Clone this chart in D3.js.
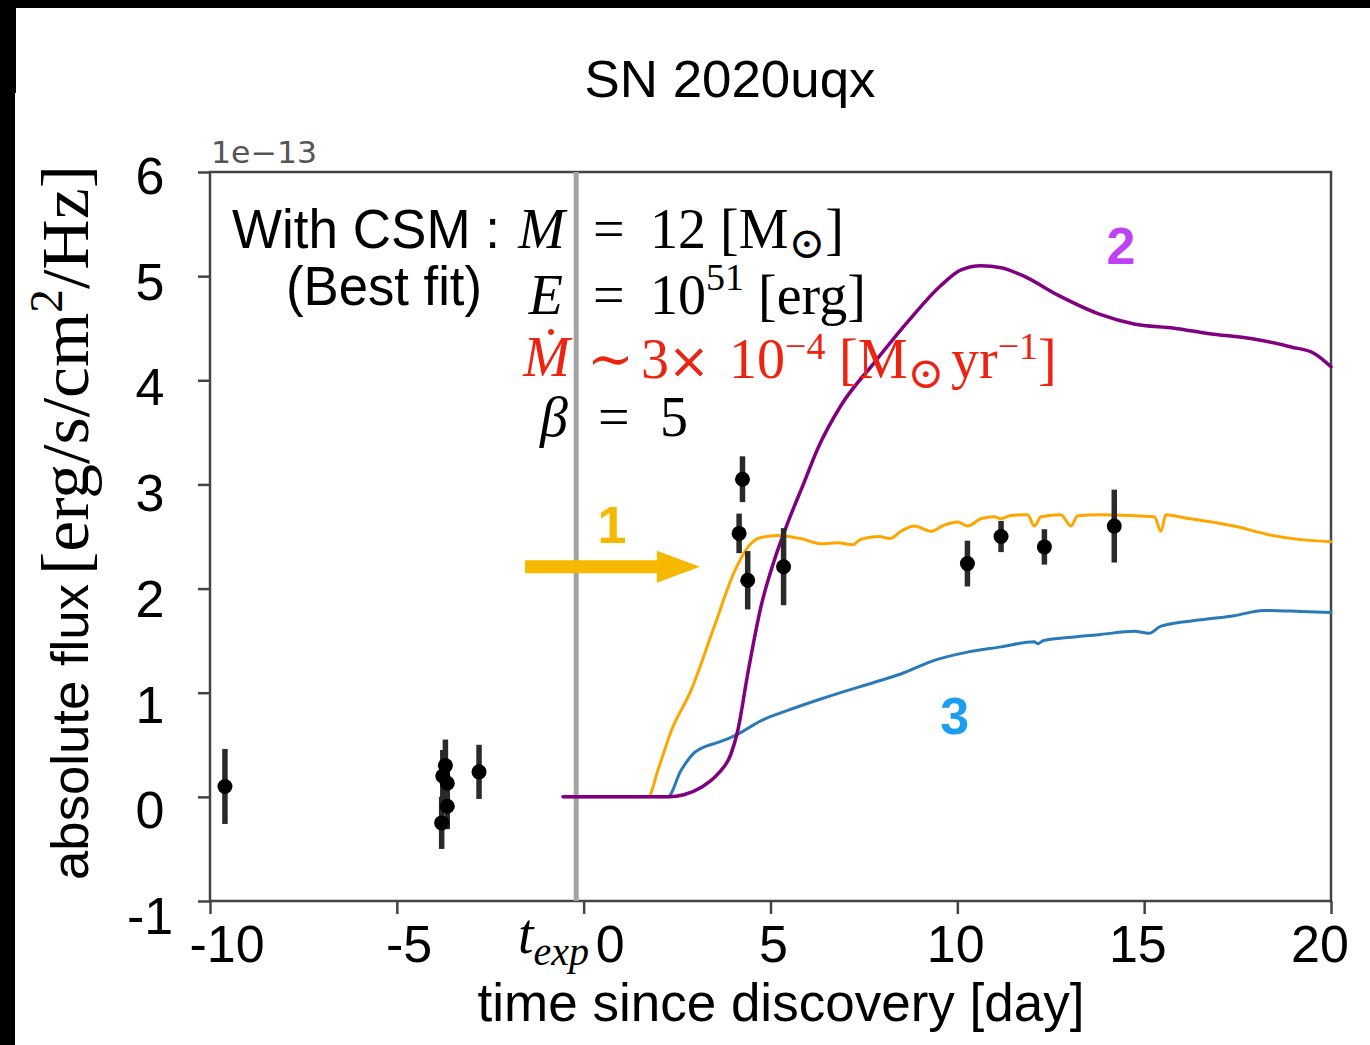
<!DOCTYPE html>
<html>
<head>
<meta charset="utf-8">
<script src="https://cdn.jsdelivr.net/npm/d3@7"></script>
<style>
  html, body { margin: 0; padding: 0; background: #fff; }
  svg { display: block; }
</style>
</head>
<body>
<div id="graph"></div>
<script>
"use strict";
(function() {
    // ---- data ----
    const xTicks = [-10, -5, 0, 5, 10, 15, 20];
    const yTicks = [-1, 0, 1, 2, 3, 4, 5, 6];
    const tExp = -0.2;

    // observed points: [day, flux (1e-13), error]
    const obsPoints = [
        [-9.6, 0.1, 0.36],
        [-3.77, 0.2, 0.25],
        [-3.7, 0.3, 0.25],
        [-3.65, 0.13, 0.22],
        [-3.65, -0.09, 0.22],
        [-3.8, -0.25, 0.25],
        [-2.8, 0.24, 0.26],
        [4.25, 3.05, 0.22],
        [4.16, 2.53, 0.19],
        [4.39, 2.08, 0.28],
        [5.35, 2.21, 0.37],
        [10.27, 2.24, 0.22],
        [11.17, 2.5, 0.15],
        [12.33, 2.4, 0.17],
        [14.2, 2.6, 0.35]
    ];

    // model 1 (orange)
    const model1 = [
        [-0.55, 0], [1.72, 0], [2.0, 0.27], [2.34, 0.63], [2.87, 1.02], [3.49, 1.63],
        [4.02, 2.15], [4.4, 2.4], [4.74, 2.49], [5.2, 2.51], [5.81, 2.48], [6.35, 2.43],
        [6.8, 2.44], [7.2, 2.42], [7.4, 2.47], [7.9, 2.5], [8.2, 2.48], [8.49, 2.55],
        [8.85, 2.6], [9.29, 2.55], [9.65, 2.61], [10.01, 2.64], [10.28, 2.6], [10.63, 2.67],
        [10.99, 2.69], [11.17, 2.67], [11.4, 2.7], [11.88, 2.71], [12.06, 2.6], [12.24, 2.69],
        [12.77, 2.71], [13.04, 2.6], [13.22, 2.7], [13.84, 2.71], [14.73, 2.7], [15.27, 2.69],
        [15.45, 2.55], [15.58, 2.71], [16.07, 2.68], [16.97, 2.63], [17.41, 2.6], [18.3, 2.52],
        [19.19, 2.47], [20.0, 2.45]
    ];

    // model 2 (purple)
    const model2 = [
        [-0.55, 0], [2.3, 0], [2.68, 0.02], [3.14, 0.09], [3.59, 0.22], [3.94, 0.41],
        [4.12, 0.63], [4.39, 1.18], [4.74, 1.82], [5.1, 2.27], [5.46, 2.63], [5.9, 3.02],
        [6.26, 3.34], [6.89, 3.76], [7.78, 4.17], [8.67, 4.56], [9.56, 4.91], [10.1, 5.06],
        [10.63, 5.1], [11.17, 5.08], [11.78, 5.0], [12.68, 4.82], [13.84, 4.63], [14.73, 4.54],
        [15.8, 4.5], [16.7, 4.45], [18.04, 4.39], [18.93, 4.32], [19.54, 4.26], [20.0, 4.13]
    ];

    // model 3 (blue)
    const model3 = [
        [-0.55, 0], [2.25, 0], [2.6, 0.25], [2.95, 0.42], [3.3, 0.49], [3.58, 0.52],
        [4.12, 0.6], [4.74, 0.73], [5.46, 0.83], [6.35, 0.94], [7.96, 1.12], [8.49, 1.18],
        [9.38, 1.31], [10.27, 1.39], [11.17, 1.44], [12.06, 1.49], [12.15, 1.47],
        [12.3, 1.5], [12.95, 1.53], [13.84, 1.56], [14.73, 1.59], [15.13, 1.57],
        [15.45, 1.64], [16.52, 1.7], [17.41, 1.74], [18.2, 1.79], [19.19, 1.78], [20.0, 1.77]
    ];

    const width = 1370;
    const height = 1045;
    const plot = { left: 210, right: 1331, top: 172, bottom: 901 };
    const sans = "'Liberation Sans', Arial, Helvetica, sans-serif";
    const serif = "'Liberation Serif', 'Times New Roman', 'DejaVu Serif', serif";
    const axisColor = "#444";

    const svg = d3.select("#graph")
        .append("svg")
            .attr("width", width)
            .attr("height", height);

    // picture frame (black bands on top and left of the original)
    svg.append("rect").attr("x", 0).attr("y", 0).attr("width", width).attr("height", 8).attr("fill", "#000");
    svg.append("rect").attr("x", 0).attr("y", 0).attr("width", 16).attr("height", 93).attr("fill", "#000");
    svg.append("rect").attr("x", 0).attr("y", 93).attr("width", 15).attr("height", height - 93).attr("fill", "#000");

    const xScale = d3.scaleLinear().domain([-10, 20]).range([plot.left, plot.right]);
    const yScale = d3.scaleLinear().domain([-1, 6]).range([plot.bottom, plot.top]);
    // tick labels were placed a bit off their ticks in the original
    const xLabelScale = d3.scaleLinear().domain([-10, 20]).range([227, 1320]);
    const yLabelScale = d3.scaleLinear().domain([-1, 6]).range([915, 175]);

    // title
    svg.append("text")
        .attr("x", 730).attr("y", 97)
        .attr("text-anchor", "middle")
        .attr("font-family", sans).attr("font-size", 52)
        .attr("textLength", 291).attr("lengthAdjust", "spacingAndGlyphs")
        .text("SN 2020uqx");

    // axes (ticks only, labels drawn separately)
    const xAxis = svg.append("g")
        .attr("transform", "translate(0," + plot.bottom + ")")
        .call(d3.axisBottom(xScale).tickValues(xTicks).tickSize(13).tickSizeOuter(0).tickFormat(""));
    const yAxis = svg.append("g")
        .attr("transform", "translate(" + plot.left + ",0)")
        .call(d3.axisLeft(yScale).tickValues(yTicks).tickSize(12).tickSizeOuter(0).tickFormat(""));
    [xAxis, yAxis].forEach(function(a) {
        a.select(".domain").remove();
        a.selectAll(".tick line").attr("stroke", axisColor).attr("stroke-width", 2.5);
    });

    svg.append("rect")
        .attr("x", plot.left).attr("y", plot.top)
        .attr("width", plot.right - plot.left).attr("height", plot.bottom - plot.top)
        .attr("fill", "none").attr("stroke", axisColor).attr("stroke-width", 2.5);

    // tick labels
    svg.append("g").selectAll("text")
        .data(xTicks)
        .enter()
        .append("text")
            .attr("x", function(d) { return d === 0 ? xLabelScale(d) + 19 : xLabelScale(d); })
            .attr("y", 962)
            .attr("text-anchor", "middle")
            .attr("font-family", sans).attr("font-size", 52)
            .text(function(d) { return d; });

    svg.append("g").selectAll("text")
        .data(yTicks)
        .enter()
        .append("text")
            .attr("x", 150)
            .attr("y", function(d) { return yLabelScale(d) + 19; })
            .attr("text-anchor", "middle")
            .attr("font-family", sans).attr("font-size", 52)
            .text(function(d) { return d; });

    // offset text
    svg.append("text")
        .attr("x", 211).attr("y", 163)
        .attr("font-family", "'DejaVu Sans', sans-serif").attr("font-size", 30)
        .attr("fill", "#555")
        .attr("textLength", 106).attr("lengthAdjust", "spacingAndGlyphs")
        .text("1e\u221213");

    // t_exp label
    const tlab = svg.append("text")
        .attr("x", 518).attr("y", 953)
        .attr("font-family", serif).attr("font-style", "italic").attr("font-size", 56);
    tlab.append("tspan").text("t");
    tlab.append("tspan").attr("dy", 12).attr("font-size", 40).text("exp");

    // axis titles
    svg.append("text")
        .attr("x", 781).attr("y", 1021)
        .attr("text-anchor", "middle")
        .attr("font-family", sans).attr("font-size", 53)
        .attr("textLength", 607).attr("lengthAdjust", "spacingAndGlyphs")
        .text("time since discovery [day]");

    svg.append("text")
        .attr("transform", "translate(88,880) rotate(-90)")
        .attr("font-family", sans).attr("font-size", 52)
        .attr("textLength", 296).attr("lengthAdjust", "spacingAndGlyphs")
        .text("absolute flux");

    const ylab = svg.append("text")
        .attr("transform", "translate(88,575) rotate(-90)")
        .attr("font-family", serif).attr("font-size", 68)
        .attr("textLength", 410).attr("lengthAdjust", "spacingAndGlyphs");
    ylab.append("tspan").text("[erg/s/cm");
    ylab.append("tspan").attr("dy", -26).attr("font-size", 46).text("2");
    ylab.append("tspan").attr("dy", 26).text("/Hz]");

    // explosion time marker
    svg.append("line")
        .attr("x1", xScale(tExp)).attr("x2", xScale(tExp))
        .attr("y1", plot.top).attr("y2", plot.bottom)
        .attr("stroke", "#a3a3a3").attr("stroke-width", 5);

    // model curves
    const line = d3.line()
        .x(function(d) { return xScale(d[0]); })
        .y(function(d) { return yScale(d[1]); })
        .curve(d3.curveMonotoneX);

    const models = [
        { data: model1, color: "#ffa500", w: 3 },
        { data: model3, color: "#2a7ab8", w: 3 },
        { data: model2, color: "#800080", w: 3.5 }
    ];
    models.forEach(function(m) {
        svg.append("path")
            .datum(m.data)
            .attr("d", line)
            .attr("fill", "none")
            .attr("stroke", m.color)
            .attr("stroke-width", m.w)
            .attr("stroke-linejoin", "round")
            .attr("stroke-linecap", "round");
    });

    // observed points with error bars
    const pts = svg.append("g");
    pts.selectAll("line")
        .data(obsPoints)
        .enter()
        .append("line")
            .attr("x1", function(d) { return xScale(d[0]); })
            .attr("x2", function(d) { return xScale(d[0]); })
            .attr("y1", function(d) { return yScale(d[1] - d[2]); })
            .attr("y2", function(d) { return yScale(d[1] + d[2]); })
            .attr("stroke", "#2a2a2a")
            .attr("stroke-width", 5.5);
    pts.selectAll("circle")
        .data(obsPoints)
        .enter()
        .append("circle")
            .attr("cx", function(d) { return xScale(d[0]); })
            .attr("cy", function(d) { return yScale(d[1]); })
            .attr("r", 7.5)
            .attr("fill", "#000");

    // arrow pointing at model 1
    const arrowY = 2.21;
    const shaft = 6.5;
    const head = 16;
    const ax0 = xScale(-1.57), axh = xScale(1.96), ax1 = xScale(3.11), ay = yScale(arrowY);
    svg.append("path")
        .attr("d", "M" + ax0 + "," + (ay - shaft) +
                   "L" + axh + "," + (ay - shaft) +
                   "L" + axh + "," + (ay - head) +
                   "L" + ax1 + "," + ay +
                   "L" + axh + "," + (ay + head) +
                   "L" + axh + "," + (ay + shaft) +
                   "L" + ax0 + "," + (ay + shaft) + "Z")
        .attr("fill", "#f6b900");

    // model number labels
    const numLabels = [
        { txt: "1", t: 0.76, f: 2.44, color: "#f6b900" },
        { txt: "2", t: 14.38, f: 5.12, color: "#bf40f5" },
        { txt: "3", t: 9.93, f: 0.6, color: "#1c9ff0" }
    ];
    svg.append("g").selectAll("text")
        .data(numLabels)
        .enter()
        .append("text")
            .attr("x", function(d) { return xScale(d.t); })
            .attr("y", function(d) { return yScale(d.f); })
            .attr("text-anchor", "middle")
            .attr("font-family", sans).attr("font-weight", "bold").attr("font-size", 52)
            .attr("fill", function(d) { return d.color; })
            .text(function(d) { return d.txt; });

    // parameter block
    function rich(x, y, parts, opts) {
        const t = svg.append("text")
            .attr("x", x).attr("y", y)
            .attr("font-family", opts.family || serif)
            .attr("font-size", opts.size || 56)
            .attr("fill", opts.color || "#000")
            .attr("text-anchor", opts.anchor || "start");
        if (opts.italic) t.attr("font-style", "italic");
        const supShift = opts.sup || -24;
        let shift = 0;
        parts.forEach(function(p) {
            const kind = p[1] || "n";
            const target = kind === "sup" ? supShift : kind === "sub" ? 10 : 0;
            const ts = t.append("tspan").attr("dy", target - shift).text(p[0]);
            shift = target;
            if (kind === "sup") ts.attr("font-size", 38);
            if (kind === "sub") ts.attr("font-size", 44).attr("font-family", "'DejaVu Serif', serif");
            if (kind === "big") ts.attr("font-family", "'DejaVu Sans', sans-serif").attr("font-size", 50);
            if (p[2] !== undefined) ts.attr("x", p[2]);
        });
        return t;
    }

    rich(500, 248, [["With CSM :"]], { family: sans, anchor: "end" })
        .attr("textLength", 268).attr("lengthAdjust", "spacingAndGlyphs");
    rich(482, 305, [["(Best fit)"]], { family: sans, anchor: "end" })
        .attr("textLength", 196).attr("lengthAdjust", "spacingAndGlyphs");

    rich(565, 248, [["M"]], { italic: true, anchor: "end" });
    rich(563, 314, [["E"]], { italic: true, anchor: "end" });
    rich(570, 376, [["\u1E40"]], { italic: true, anchor: "end", color: "#ee2211" });
    rich(568, 436, [["\u03B2"]], { italic: true, anchor: "end" });

    rich(593, 248, [["="], ["12 [M", "n", 650], ["\u2299", "sub"], ["]"]], {});
    rich(593, 314, [["="], ["10", "n", 650], ["51", "sup"], [" [erg]"]], {});
    rich(587, 378, [["\u223C"], ["3", "n", 641], ["\u00D7", "big", 668], ["10", "n", 729],
                    ["\u22124", "sup"], ["[M", "n", 839], ["\u2299", "sub"], ["yr", "n", 951],
                    ["\u22121", "sup"], ["]"]], { color: "#ee2211", sup: -19 });
    rich(598, 436, [["="], ["5", "n", 660]], {});
})();
</script>
</body>
</html>
